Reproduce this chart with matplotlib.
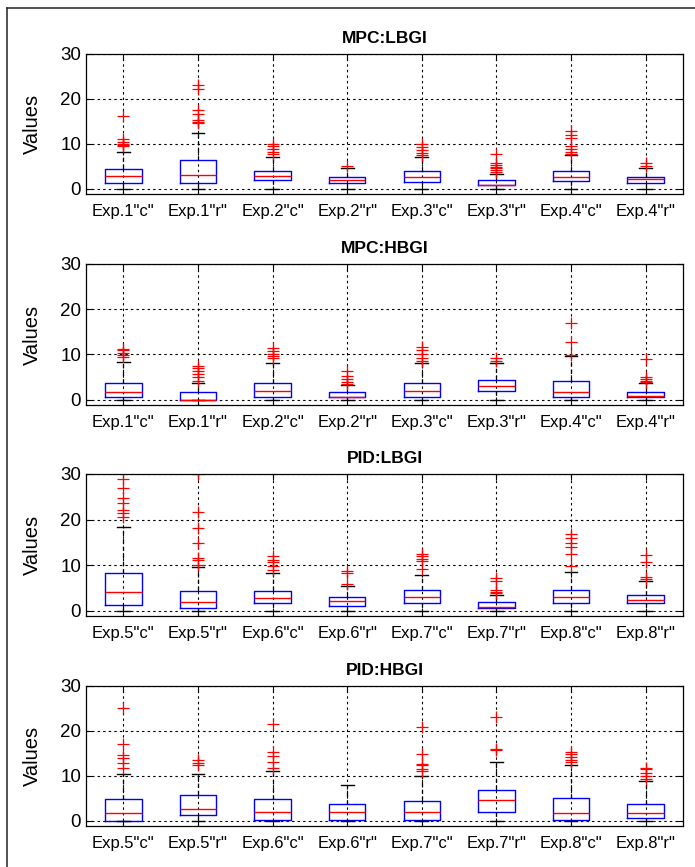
import matplotlib
matplotlib.use("Agg")
import matplotlib.pyplot as plt
from matplotlib.lines import Line2D

plt.rcParams['font.family'] = ['Liberation Sans', 'DejaVu Sans']

# Tick labels for the two controller groups
LABELS_MPC = ['Exp.1"c"', 'Exp.1"r"', 'Exp.2"c"', 'Exp.2"r"',
              'Exp.3"c"', 'Exp.3"r"', 'Exp.4"c"', 'Exp.4"r"']
LABELS_PID = ['Exp.5"c"', 'Exp.5"r"', 'Exp.6"c"', 'Exp.6"r"',
              'Exp.7"c"', 'Exp.7"r"', 'Exp.8"c"', 'Exp.8"r"']

TITLES = ['MPC:LBGI', 'MPC:HBGI', 'PID:LBGI', 'PID:HBGI']

# ---- MPC:LBGI ----
MPC_LBGI_Q1 = [1.3, 1.3, 1.9, 1.3, 1.5, 0.7, 1.8, 1.3]
MPC_LBGI_MED = [2.8, 3.1, 2.8, 2.0, 2.6, 0.9, 2.6, 2.1]
MPC_LBGI_Q3 = [4.4, 6.4, 3.9, 2.7, 3.9, 1.9, 3.9, 2.7]
MPC_LBGI_LO = [0, 0, 0, 0, 0, 0, 0, 0]
MPC_LBGI_HI = [8.2, 12.5, 7.0, 4.6, 7.0, 3.3, 7.5, 4.6]
MPC_LBGI_OUT = [
    [9.5, 9.7, 10.0, 10.3, 11.0, 16.1],
    [14.6, 14.9, 15.2, 16.7, 17.6, 22.2, 23.2],
    [7.7, 8.2, 8.8, 9.5, 10.0],
    [5.0],
    [7.4, 8.0, 8.6, 9.2, 10.0],
    [3.7, 4.1, 4.5, 4.9, 5.2, 5.6, 7.8],
    [7.8, 8.2, 8.9, 9.6, 11.3, 12.0, 12.8],
    [5.0, 5.8],
]

# ---- MPC:HBGI ----
MPC_HBGI_Q1 = [0.5, 0.0, 0.5, 0.5, 0.5, 1.8, 0.5, 0.5]
MPC_HBGI_MED = [1.7, 0.0, 1.8, 0.65, 1.9, 3.1, 1.7, 0.7]
MPC_HBGI_Q3 = [3.6, 1.7, 3.6, 1.7, 3.6, 4.3, 4.1, 1.7]
MPC_HBGI_LO = [0, 0, 0, 0, 0, 0, 0, 0]
MPC_HBGI_HI = [8.4, 3.7, 8.0, 3.2, 8.0, 8.0, 9.7, 3.7]
MPC_HBGI_OUT = [
    [9.5, 9.8, 10.2, 10.9, 11.3],
    [4.2, 5.0, 5.6, 6.3, 7.0, 7.5],
    [9.2, 9.6, 10.0, 10.7, 11.5],
    [3.5, 3.8, 4.6, 5.2, 6.3],
    [8.5, 9.2, 10.0, 11.0, 11.7],
    [8.5, 9.2],
    [9.9, 12.8, 16.9],
    [3.8, 4.2, 4.6, 5.0, 9.0],
]

# ---- PID:LBGI ----
PID_LBGI_Q1 = [1.2, 0.5, 1.6, 1.1, 1.6, 0.5, 1.6, 1.6]
PID_LBGI_MED = [4.0, 1.8, 2.7, 2.2, 2.9, 0.7, 2.9, 2.4]
PID_LBGI_Q3 = [8.2, 4.2, 4.2, 3.0, 4.6, 1.8, 4.6, 3.5]
PID_LBGI_LO = [0, 0, 0, 0, 0, 0, 0, 0]
PID_LBGI_HI = [18.3, 9.5, 8.2, 5.5, 7.8, 3.5, 8.4, 6.4]
PID_LBGI_OUT = [
    [20.5, 21.4, 22.0, 23.7, 24.8, 27.0, 28.9],
    [10.1, 11.2, 11.5, 14.9, 18.1, 21.7, 29.9],
    [8.8, 9.7, 10.6, 11.0, 12.0],
    [5.8, 8.3, 8.7],
    [9.1, 10.9, 11.4, 11.9, 12.4],
    [3.8, 4.1, 4.5, 6.5, 7.2],
    [9.7, 12.5, 14.0, 14.9, 16.0, 16.9],
    [7.0, 7.3, 10.6, 12.1],
]

# ---- PID:HBGI ----
PID_HBGI_Q1 = [0.0, 1.2, 0.2, 0.15, 0.15, 1.9, 0.15, 0.6]
PID_HBGI_MED = [1.8, 2.7, 2.0, 2.0, 2.0, 4.5, 1.8, 1.8]
PID_HBGI_Q3 = [4.8, 5.6, 4.8, 3.6, 4.4, 6.9, 5.1, 3.8]
PID_HBGI_LO = [0, 0, 0, 0, 0, 0, 0, 0]
PID_HBGI_HI = [10.5, 10.3, 11.1, 7.9, 10.0, 13.0, 12.4, 8.8]
PID_HBGI_OUT = [
    [11.8, 12.8, 14.0, 14.6, 17.0, 25.2],
    [12.3, 12.8, 13.6],
    [11.8, 13.1, 14.3, 15.3, 21.6],
    [],
    [11.1, 11.6, 12.3, 12.7, 14.9, 20.9],
    [15.8, 16.0, 23.2],
    [13.0, 13.6, 14.2, 14.8, 15.3],
    [9.3, 9.9, 10.6, 11.4, 11.8],
]

PANELS = [
    (MPC_LBGI_Q1, MPC_LBGI_MED, MPC_LBGI_Q3, MPC_LBGI_LO, MPC_LBGI_HI, MPC_LBGI_OUT, LABELS_MPC),
    (MPC_HBGI_Q1, MPC_HBGI_MED, MPC_HBGI_Q3, MPC_HBGI_LO, MPC_HBGI_HI, MPC_HBGI_OUT, LABELS_MPC),
    (PID_LBGI_Q1, PID_LBGI_MED, PID_LBGI_Q3, PID_LBGI_LO, PID_LBGI_HI, PID_LBGI_OUT, LABELS_PID),
    (PID_HBGI_Q1, PID_HBGI_MED, PID_HBGI_Q3, PID_HBGI_LO, PID_HBGI_HI, PID_HBGI_OUT, LABELS_PID),
]

W, H = 695, 867
fig = plt.figure(figsize=(W / 100, H / 100), dpi=100)

# axes top / bottom edges in pixels
AX_PIX = [(54, 194), (264, 405), (474, 616), (686, 826)]
AX_LEFT, AX_RIGHT = 86, 683

grid_style = dict(color='black', linestyle=(0, (2.2, 2.8)), linewidth=0.8)

for (q1, med, q3, lo, hi, out, labels), title, (top, bot) in zip(PANELS, TITLES, AX_PIX):
    ax = fig.add_axes([AX_LEFT / W, 1 - bot / H, (AX_RIGHT - AX_LEFT) / W, (bot - top) / H])
    stats = [dict(q1=a, med=m, q3=b, whislo=l, whishi=h, fliers=f)
             for a, m, b, l, h, f in zip(q1, med, q3, lo, hi, out)]
    ax.bxp(stats, positions=range(1, len(stats) + 1), widths=0.49, capwidths=0.17,
           showfliers=True,
           boxprops=dict(color='#0000ff', linewidth=1.0),
           medianprops=dict(color='#ff0000', linewidth=1.0),
           whiskerprops=dict(color='black', linestyle=(0, (3.5, 2.5)), linewidth=0.9),
           capprops=dict(color='black', linewidth=1.0),
           flierprops=dict(marker='+', markeredgecolor='#ff0000', markersize=8,
                           markeredgewidth=0.9, linestyle='none'))
    ax.set_xlim(0.5, 8.5)
    ax.set_ylim(-1.2, 30)
    ax.set_yticks([0, 10, 20, 30])
    ax.set_xticks(range(1, 9))
    ax.set_xticklabels(labels)
    ax.grid(True, **grid_style)
    ax.set_axisbelow(True)
    ax.tick_params(direction='in', top=True, right=True, length=4, width=0.8,
                   labelsize=13.5, colors='black')
    ax.tick_params(axis='x', pad=7, labelsize=12)
    for s in ax.spines.values():
        s.set_linewidth(0.9)
        s.set_color('black')
    ax.set_ylabel('Values', fontsize=14.5, labelpad=13)
    ax.set_title(title, fontsize=12.5, fontweight='bold', pad=8)

# outer frame (left and top edges)
fig.add_artist(Line2D([7 / W, 7 / W], [0, 1 - 8 / H], transform=fig.transFigure,
                      color='#222222', linewidth=1.1))
fig.add_artist(Line2D([7 / W, 1], [1 - 8 / H, 1 - 8 / H], transform=fig.transFigure,
                      color='#222222', linewidth=1.1))

fig.savefig('out.png', dpi=100, facecolor='white')
